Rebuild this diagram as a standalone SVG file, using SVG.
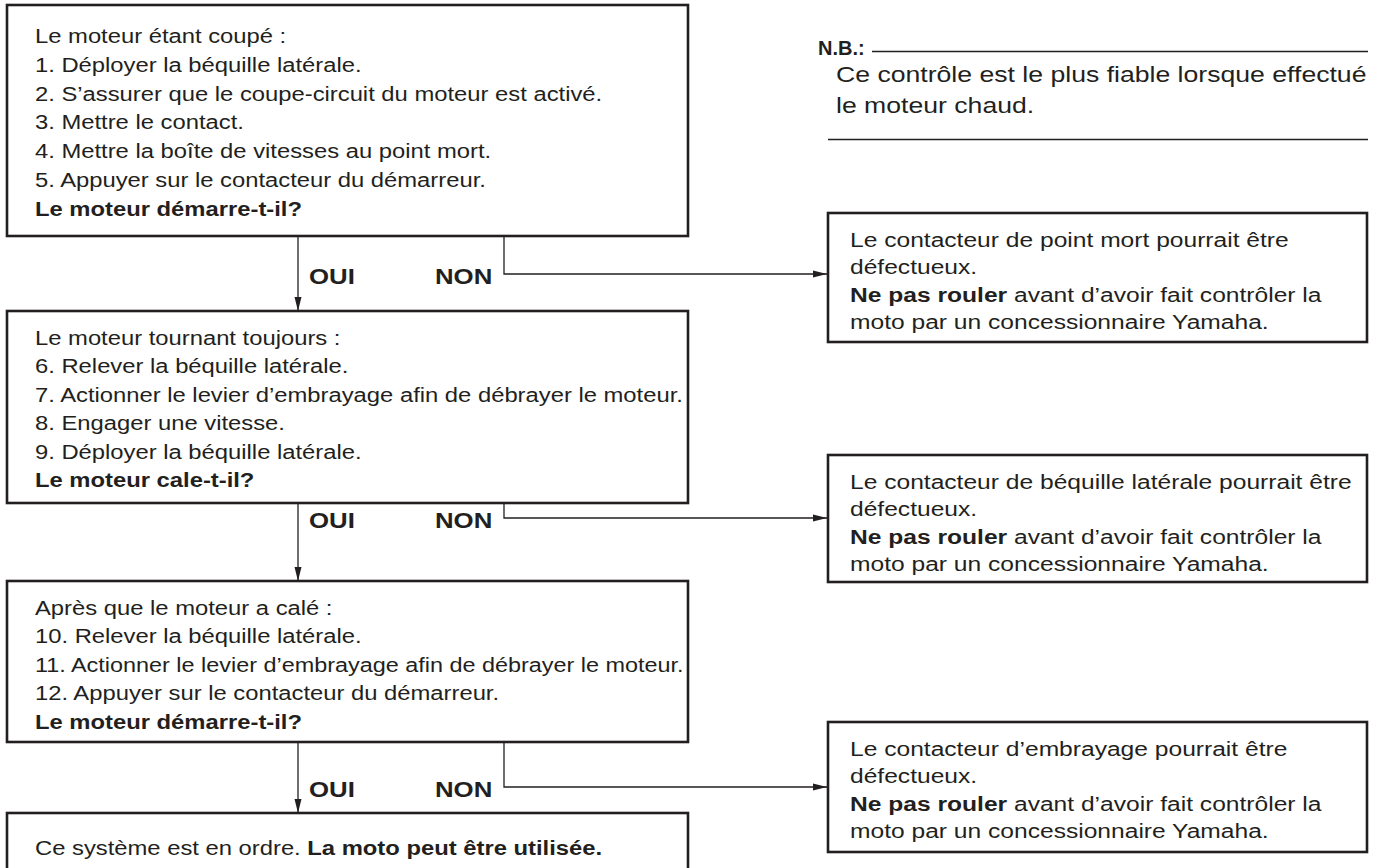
<svg xmlns="http://www.w3.org/2000/svg" width="1378" height="868" viewBox="0 0 1378 868">
<defs>
<marker id="ah" markerWidth="14" markerHeight="8" refX="14" refY="4" orient="auto" markerUnits="userSpaceOnUse">
<path d="M0,0.5 L14,4 L0,7.5 Z" fill="#231f20"/>
</marker>
<style>
.box{fill:#fff;stroke:#231f20;stroke-width:2.6}
.t{font-family:"Liberation Sans",Arial,Helvetica,sans-serif;font-size:20px;fill:#231f20}
.b{font-weight:bold}
.lbl{font-family:"Liberation Sans",Arial,Helvetica,sans-serif;font-size:21.5px;font-weight:bold;fill:#231f20}
.nb{font-size:22px}
.c{fill:none;stroke:#231f20;stroke-width:1.3}
.rule{stroke:#231f20;stroke-width:1.3}
</style>
</defs>
<rect width="1378" height="868" fill="#fff"/>

<g id="connectors">
<line class="c" x1="298" y1="236" x2="298" y2="311" marker-end="url(#ah)"/>
<polyline class="c" points="504,236 504,274 827,274" marker-end="url(#ah)"/>
<line class="c" x1="298" y1="503" x2="298" y2="581" marker-end="url(#ah)"/>
<polyline class="c" points="504,503 504,518 827,518" marker-end="url(#ah)"/>
<line class="c" x1="298" y1="742" x2="298" y2="813" marker-end="url(#ah)"/>
<polyline class="c" points="504,742 504,787 827,787" marker-end="url(#ah)"/>
<g transform="translate(309 0) scale(1.2 1)"><text class="lbl" x="0" y="284">OUI</text><text class="lbl" x="0" y="528">OUI</text><text class="lbl" x="0" y="797">OUI</text></g>
<g transform="translate(435 0) scale(1.2 1)"><text class="lbl" x="0" y="284">NON</text><text class="lbl" x="0" y="528">NON</text><text class="lbl" x="0" y="797">NON</text></g>
</g>

<g id="node1">
<rect class="box" x="7" y="5" width="681" height="231"/>
<g transform="translate(35 0) scale(1.19 1)">
<text class="t" x="0" y="43">Le moteur étant coupé :</text>
<text class="t" x="0" y="71.8">1. Déployer la béquille latérale.</text>
<text class="t" x="0" y="100.6">2. S’assurer que le coupe-circuit du moteur est activé.</text>
<text class="t" x="0" y="129.4">3. Mettre le contact.</text>
<text class="t" x="0" y="158.2">4. Mettre la boîte de vitesses au point mort.</text>
<text class="t" x="0" y="187">5. Appuyer sur le contacteur du démarreur.</text>
<text class="t b" x="0" y="215.8">Le moteur démarre-t-il?</text>
</g>
</g>

<g id="node2">
<rect class="box" x="7" y="311" width="681" height="192"/>
<g transform="translate(35 0) scale(1.19 1)">
<text class="t" x="0" y="345">Le moteur tournant toujours :</text>
<text class="t" x="0" y="373.5">6. Relever la béquille latérale.</text>
<text class="t" x="0" y="402">7. Actionner le levier d’embrayage afin de débrayer le moteur.</text>
<text class="t" x="0" y="430.5">8. Engager une vitesse.</text>
<text class="t" x="0" y="459">9. Déployer la béquille latérale.</text>
<text class="t b" x="0" y="487.5">Le moteur cale-t-il?</text>
</g>
</g>

<g id="node3">
<rect class="box" x="7" y="581" width="681" height="161"/>
<g transform="translate(35 0) scale(1.19 1)">
<text class="t" x="0" y="615">Après que le moteur a calé :</text>
<text class="t" x="0" y="643.5">10. Relever la béquille latérale.</text>
<text class="t" x="0" y="672" textLength="545" lengthAdjust="spacingAndGlyphs">11. Actionner le levier d’embrayage afin de débrayer le moteur.</text>
<text class="t" x="0" y="700.5">12. Appuyer sur le contacteur du démarreur.</text>
<text class="t b" x="0" y="729">Le moteur démarre-t-il?</text>
</g>
</g>

<g id="node4">
<rect class="box" x="7" y="813" width="681" height="70"/>
<g transform="translate(35 0) scale(1.19 1)">
<text class="t" x="0" y="855">Ce système est en ordre. <tspan class="b">La moto peut être utilisée.</tspan></text>
</g>
</g>

<g id="nodeR1">
<rect class="box" x="828" y="213" width="539" height="129"/>
<g transform="translate(850 0) scale(1.23 1)">
<text class="t" x="0" y="247">Le contacteur de point mort pourrait être</text>
<text class="t" x="0" y="274">défectueux.</text>
<text class="t" x="0" y="302"><tspan class="b">Ne pas rouler</tspan> avant d’avoir fait contrôler la</text>
<text class="t" x="0" y="329">moto par un concessionnaire Yamaha.</text>
</g>
</g>

<g id="nodeR2">
<rect class="box" x="828" y="455" width="539" height="127"/>
<g transform="translate(850 0) scale(1.23 1)">
<text class="t" x="0" y="489">Le contacteur de béquille latérale pourrait être</text>
<text class="t" x="0" y="516">défectueux.</text>
<text class="t" x="0" y="544"><tspan class="b">Ne pas rouler</tspan> avant d’avoir fait contrôler la</text>
<text class="t" x="0" y="571">moto par un concessionnaire Yamaha.</text>
</g>
</g>

<g id="nodeR3">
<rect class="box" x="828" y="722" width="539" height="130"/>
<g transform="translate(850 0) scale(1.23 1)">
<text class="t" x="0" y="756">Le contacteur d’embrayage pourrait être</text>
<text class="t" x="0" y="783">défectueux.</text>
<text class="t" x="0" y="811"><tspan class="b">Ne pas rouler</tspan> avant d’avoir fait contrôler la</text>
<text class="t" x="0" y="838">moto par un concessionnaire Yamaha.</text>
</g>
</g>

<g id="note">
<text class="lbl" x="818" y="55" style="font-size:20px">N.B.:</text>
<line class="rule" x1="872" y1="51.5" x2="1368" y2="51.5"/>
<g transform="translate(836 0) scale(1.21 1)">
<text class="t nb" x="0" y="82">Ce contrôle est le plus fiable lorsque effectué</text>
<text class="t nb" x="0" y="113">le moteur chaud.</text>
</g>
<line class="rule" x1="828" y1="139.5" x2="1368" y2="139.5"/>
</g>
</svg>
